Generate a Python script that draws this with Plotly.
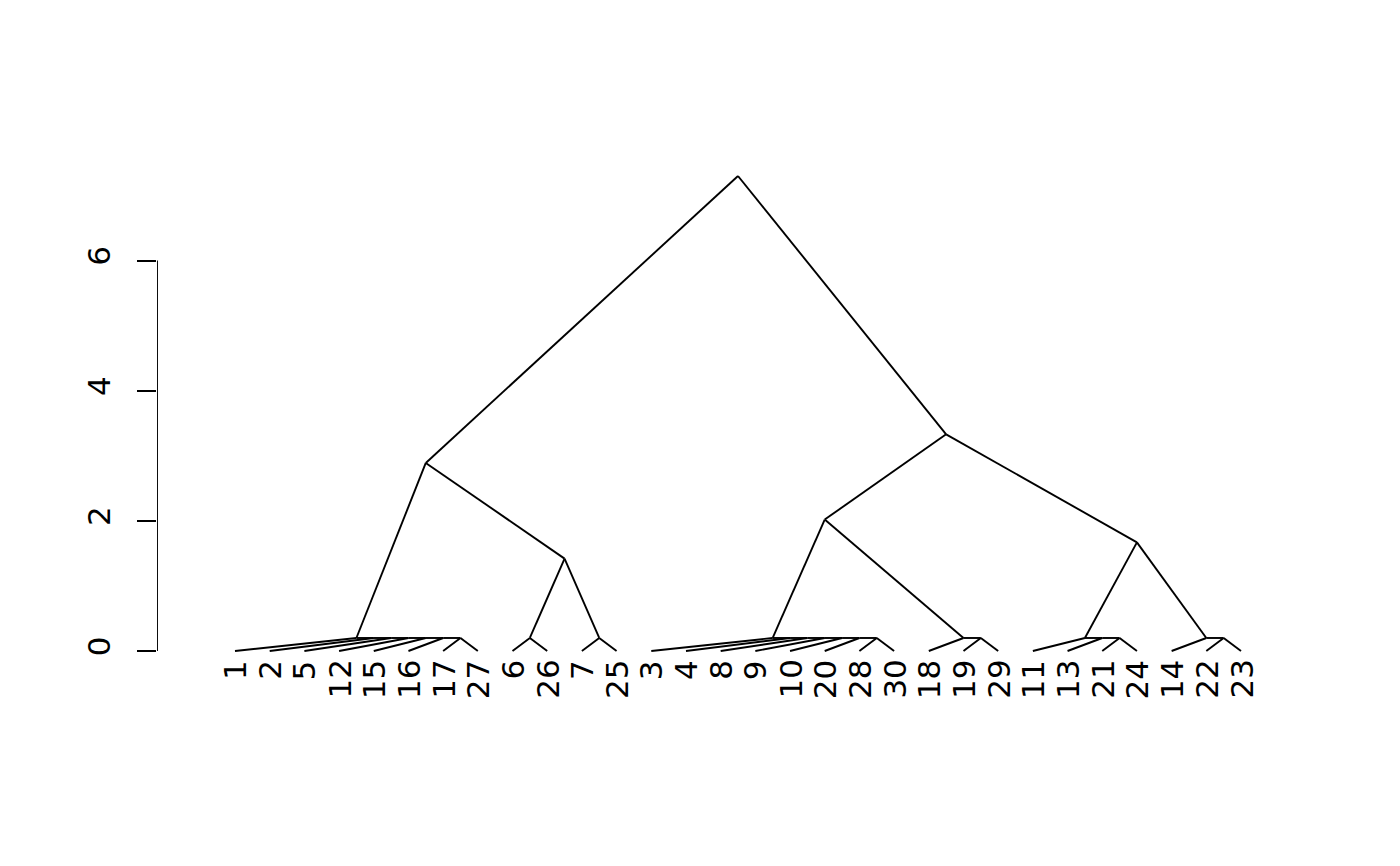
import plotly.graph_objects as go

# hclust-style merge table: negative = observation id, positive = earlier merge step (1-based)
merge_left = [-17, -16, -15, -12, -5, -2, -1, -6, -7, 8, 7,
              -28, -20, -10, -9, -8, -4, -3, -19, -18, 18,
              -21, -13, -11, -22, -14, 24, 21, 11]
merge_right = [-27, 1, 2, 3, 4, 5, 6, -26, -25, 9, 10,
               -30, 12, 13, 14, 15, 16, 17, -29, 19, 20,
               -24, 22, 23, -23, 25, 26, 27, 28]
merge_height = [0.2, 0.2, 0.2, 0.2, 0.2, 0.2, 0.2, 0.2, 0.2, 1.42, 2.89,
                0.2, 0.2, 0.2, 0.2, 0.2, 0.2, 0.2, 0.2, 0.2, 2.02,
                0.2, 0.2, 0.2, 0.2, 0.2, 1.67, 3.33, 7.30]
y_ticks = [0, 2, 4, 6]

FONT = "DejaVu Sans"
FS = 31

# leaf order from the tree (left-to-right traversal)
def leaves(node):
    if node < 0:
        return [-node]
    k = node - 1
    return leaves(merge_left[k]) + leaves(merge_right[k])

root = len(merge_left)
leaf_order = leaves(root)
leaf_pos = {obs: i + 1 for i, obs in enumerate(leaf_order)}

def node_xy(node):
    if node < 0:
        return leaf_pos[-node], 0.0
    lv = leaves(node)
    ps = [leaf_pos[o] for o in lv]
    return (min(ps) + max(ps)) / 2.0, merge_height[node - 1]

xs, ys = [], []
for k in range(root):
    px, py = node_xy(k + 1)
    for child in (merge_left[k], merge_right[k]):
        cx, cy = node_xy(child)
        xs += [px, cx, None]
        ys += [py, cy, None]

xmin, xmax = -1.2485, 32.2485
ymin, ymax = -0.292, 7.592

fig = go.Figure()
fig.add_trace(go.Scatter(x=xs, y=ys, mode="lines",
                         line=dict(color="black", width=1.9),
                         hoverinfo="skip", showlegend=False))
# y axis line (R style: only spans the tick range)
fig.add_trace(go.Scatter(x=[xmin, xmin], y=[min(y_ticks), max(y_ticks)], mode="lines",
                         line=dict(color="black", width=1.9), cliponaxis=False,
                         hoverinfo="skip", showlegend=False))

for obs in leaf_order:
    fig.add_annotation(x=leaf_pos[obs], y=0, yshift=-7, text=str(obs),
                       textangle=-90, xanchor="center", yanchor="top",
                       showarrow=False, font=dict(family=FONT, size=FS, color="black"))

fig.update_layout(
    width=1400, height=866,
    margin=dict(l=157, r=81, t=157, b=196, pad=0),
    paper_bgcolor="white", plot_bgcolor="white",
    xaxis=dict(range=[xmin, xmax], visible=False),
    yaxis=dict(range=[ymin, ymax], showgrid=False, zeroline=False, showline=False,
               ticks="outside", ticklen=19, tickwidth=1.9, tickcolor="black",
               tickvals=y_ticks, ticktext=[str(v) for v in y_ticks],
               tickangle=-90, ticklabelstandoff=15,
               tickfont=dict(family=FONT, size=FS, color="black")),
)
fig.write_html("out.html")
